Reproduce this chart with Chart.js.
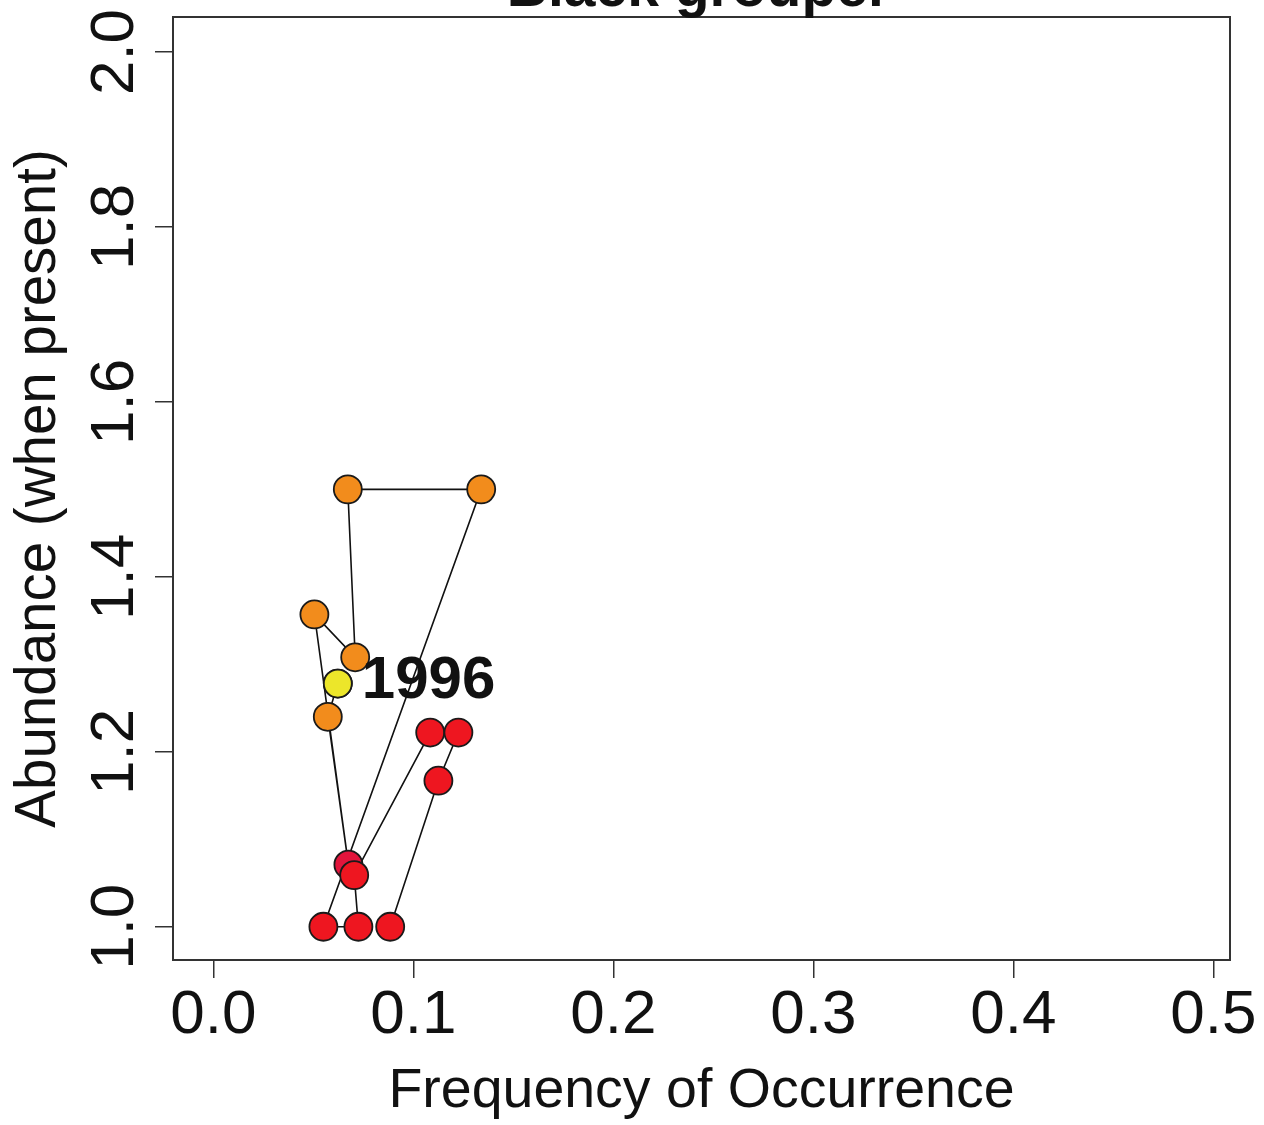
<!DOCTYPE html>
<html>
<head>
<meta charset="utf-8">
<title>Black grouper</title>
<script src="https://cdn.jsdelivr.net/npm/chart.js@4.4.1/dist/chart.umd.min.js"></script>
<style>
  html, body { margin: 0; padding: 0; background: #fff; }
  canvas { display: block; }
</style>
</head>
<body>
<canvas id="frqChart" width="1264" height="1125"></canvas>
<script>
// values, in year order
const years = [1996, 1997, 1998, 1999, 2000, 2001, 2002, 2003, 2004, 2005, 2006, 2007, 2008, 2009];
const frequency = [0.0622, 0.0572, 0.0675, 0.0505, 0.0709, 0.0672, 0.1339, 0.0550, 0.0725, 0.0704, 0.1084, 0.1225, 0.1125, 0.0884];
const abundance = [1.278, 1.240, 1.071, 1.357, 1.308, 1.500, 1.500, 1.000, 1.000, 1.059, 1.222, 1.222, 1.167, 1.000];
const pointColors = ['#ECE62A', '#F28C1C', '#E2153C', '#F28C1C', '#F28C1C', '#F28C1C', '#F28C1C',
  '#EE1620', '#EE1620', '#EE1620', '#EE1620', '#EE1620', '#EE1620', '#EE1620'];
const xTickValues = [0.0, 0.1, 0.2, 0.3, 0.4, 0.5];
const yTickValues = [1.0, 1.2, 1.4, 1.6, 1.8, 2.0];
const chartTitle = 'Black grouper';
const xTitle = 'Frequency of Occurrence';
const yTitle = 'Abundance (when present)';

const FONT = '"Liberation Sans", Arial, sans-serif';

const points = years.map((yr, i) => ({ x: frequency[i], y: abundance[i], year: yr }));

// R style text: box, rotated y labels, titles, first year label
const rPlotPlugin = {
  id: 'rPlot',
  afterDraw(chart) {
    const ctx = chart.ctx;
    const area = chart.chartArea;
    const xs = chart.scales.x;
    const ys = chart.scales.y;
    ctx.save();
    ctx.strokeStyle = '#333';
    ctx.lineWidth = 2;
    ctx.strokeRect(area.left, area.top, area.right - area.left, area.bottom - area.top);

    ctx.fillStyle = '#111';
    ctx.textBaseline = 'alphabetic';
    ctx.textAlign = 'center';
    ctx.font = '62px ' + FONT;
    xs.ticks.forEach(t => {
      ctx.fillText(t.value.toFixed(1), xs.getPixelForValue(t.value), 1033);
    });
    ys.ticks.forEach(t => {
      ctx.save();
      ctx.translate(133, ys.getPixelForValue(t.value));
      ctx.rotate(-Math.PI / 2);
      ctx.fillText(t.value.toFixed(1), 0, 0);
      ctx.restore();
    });

    ctx.font = '55.5px ' + FONT;
    ctx.fillText(xTitle, (area.left + area.right) / 2, 1107);
    ctx.font = '56.5px ' + FONT;
    ctx.save();
    ctx.translate(55, (area.top + area.bottom) / 2);
    ctx.rotate(-Math.PI / 2);
    ctx.fillText(yTitle, 0, 0);
    ctx.restore();

    ctx.font = 'bold 57px ' + FONT;
    ctx.fillText(chartTitle, (area.left + area.right) / 2 - 3, 6);

    // label the first year next to its point
    const first = chart.getDatasetMeta(0).data[0];
    ctx.font = 'bold 60px ' + FONT;
    ctx.textAlign = 'left';
    ctx.textBaseline = 'middle';
    ctx.fillText(String(years[0]), first.x + 24, first.y - 2);
    ctx.restore();
  }
};

const ctx = document.getElementById('frqChart').getContext('2d');
new Chart(ctx, {
  type: 'scatter',
  data: {
    datasets: [
      {
        // first year drawn on top of the rest
        label: 'first',
        data: points.slice(0, 1),
        showLine: false,
        pointBackgroundColor: pointColors[0],
        pointBorderColor: '#1a1a1a',
        pointBorderWidth: 1.8,
        pointRadius: 14
      },
      {
        label: 'Black grouper',
        data: points,
        showLine: true,
        borderColor: '#111',
        borderWidth: 1.6,
        tension: 0,
        fill: false,
        pointBackgroundColor: pointColors,
        pointBorderColor: '#1a1a1a',
        pointBorderWidth: 1.8,
        pointRadius: 14
      }
    ]
  },
  options: {
    responsive: false,
    animation: false,
    devicePixelRatio: 1,
    layout: { padding: { top: 17, right: 34, left: 0, bottom: 0 } },
    plugins: {
      legend: { display: false },
      tooltip: { enabled: false },
      title: { display: false }
    },
    scales: {
      x: {
        type: 'linear',
        min: -0.0202,
        max: 0.5083,
        afterBuildTicks: s => { s.ticks = xTickValues.map(v => ({ value: v })); },
        afterFit: s => { s.height = 165; },
        ticks: { color: 'rgba(0,0,0,0)', font: { size: 12 } },
        grid: { drawOnChartArea: false, drawTicks: true, tickLength: 18, color: '#333', lineWidth: 1.5 },
        border: { display: false }
      },
      y: {
        type: 'linear',
        min: 0.962,
        max: 2.04,
        afterBuildTicks: s => { s.ticks = yTickValues.map(v => ({ value: v })); },
        afterFit: s => { s.width = 173; },
        ticks: { color: 'rgba(0,0,0,0)', font: { size: 12 } },
        grid: { drawOnChartArea: false, drawTicks: true, tickLength: 18, color: '#333', lineWidth: 1.5 },
        border: { display: false }
      }
    }
  },
  plugins: [rPlotPlugin]
});
</script>
</body>
</html>
